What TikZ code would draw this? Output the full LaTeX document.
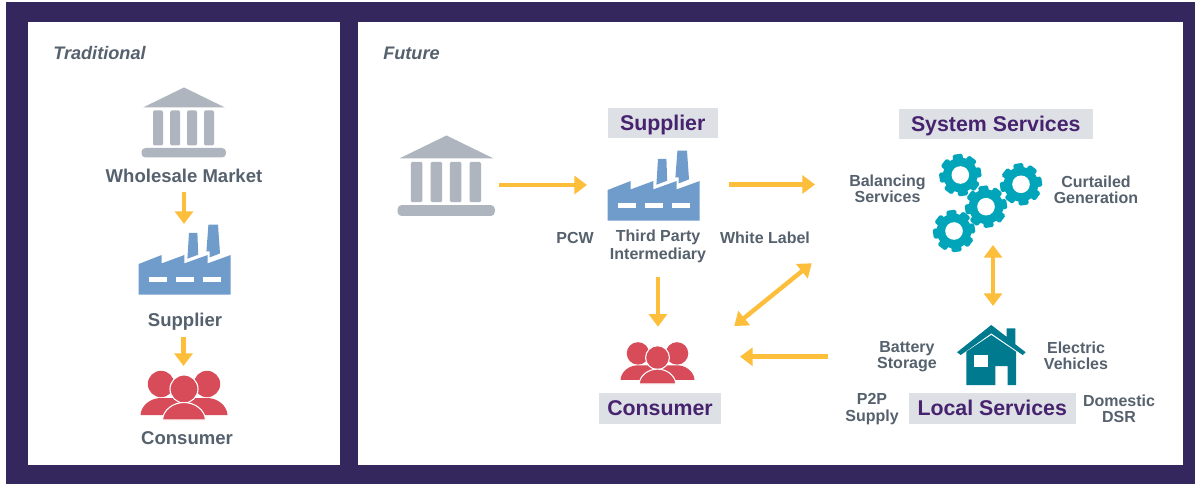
\documentclass[tikz,border=0pt]{standalone}
\usepackage{fontspec}
\setmainfont{Liberation Sans}
\usetikzlibrary{arrows.meta}
\definecolor{navy}{HTML}{33275D}
\definecolor{greytext}{HTML}{56616E}
\definecolor{purpletext}{HTML}{47236F}
\definecolor{boxgrey}{HTML}{DDE0E4}
\definecolor{bankgrey}{HTML}{AEB5BE}
\definecolor{factoryblue}{HTML}{6F9CCB}
\definecolor{peoplered}{HTML}{D84C5A}
\definecolor{gearteal}{HTML}{00A5BA}
\definecolor{houseteal}{HTML}{007A8E}
\definecolor{arrowgold}{HTML}{FDBE3C}
\tikzset{
  x=0.75pt,y=-0.75pt,
  lab/.style={inner sep=0pt,text=greytext,font=\fontsize{12}{12.2}\selectfont\bfseries,align=center},
  biglab/.style={inner sep=0pt,text=greytext,font=\fontsize{13.9}{15}\selectfont\bfseries,align=center},
  head/.style={inner sep=0pt,text=greytext,font=\fontsize{13.6}{15}\selectfont\bfseries\itshape,anchor=west},
  tag/.style={inner sep=0pt,fill=boxgrey,text=purpletext,font=\fontsize{16}{17}\selectfont\bfseries,anchor=center,text height=11pt,text depth=0pt},
  flow/.style={draw=arrowgold,line width=3.3pt,-{Triangle[width=13.5pt,length=9.5pt]}},
  flowboth/.style={draw=arrowgold,line width=3.3pt,{Triangle[width=13.5pt,length=9.5pt]}-{Triangle[width=13.5pt,length=9.5pt]}},
  bank/.pic={
    \fill[bankgrey] (0,-70) -- (41,-50) -- (-41,-50) -- cycle;
    \foreach \cx in {-26,-8.8,8,25}{
      \fill[bankgrey,rounded corners=1pt] (\cx-5,-47) rectangle (\cx+5,-12);
    }
    \fill[bankgrey,rounded corners=3pt] (-42.5,-9.5) rectangle (42,0);
  },
  factory/.pic={
    \fill[factoryblue] (0,0) -- (0,-30.7) -- (23,-39.7) -- (23,-31.3) -- (45.7,-39.7) -- (45.7,-31.3)
      -- (69,-39.7) -- (69,-31.3) -- (92,-39.7) -- (92,0) -- cycle;
    \fill[factoryblue] (50.3,-61.7) -- (58.7,-61.7) -- (59.5,-40) -- (48.7,-36) -- cycle;
    \fill[factoryblue] (69.7,-70) -- (79.3,-70) -- (81.3,-41.3) -- (71,-37.3) -- (71,-43.3) -- (67.7,-43.3) -- cycle;
    \foreach \wx in {10,37,64}{
      \fill[white] (\wx,-17.3) rectangle (\wx+18.3,-12.3);
    }
  },
  people/.pic={
    \fill[peoplered] (-23,-36) circle[radius=13.2];
    \fill[peoplered] (23,-36) circle[radius=13.2];
    \fill[peoplered] (-43.5,-5) .. controls (-43,-14) and (-34,-22) .. (-23,-22)
      -- (23,-22) .. controls (34,-22) and (43,-14) .. (43.5,-5) -- cycle;
    \fill[peoplered,draw=white,line width=0.8pt] (0,-31) circle[radius=14];
    \fill[peoplered,draw=white,line width=0.8pt] (-21.5,0) .. controls (-21,-10) and (-11,-17.5) .. (0,-17.5)
      .. controls (11,-17.5) and (21,-10) .. (21.5,0) -- cycle;
  },
  gear/.pic={
    \fill[gearteal] (0,0) circle[radius=17.3];
    \foreach \ga in {0,45,...,315}{
      \fill[gearteal,rotate=\ga+8,rounded corners=1.2pt] (-5,-21) rectangle (5,-14);
    }
    \fill[white] (0,0) circle[radius=8.8];
  }
}
\begin{document}
\begin{tikzpicture}
\useasboundingbox (0,0) rectangle (1195,484);
\fill[white] (0,0) rectangle (1195,484);
\fill[navy] (6,2) rectangle (1195,484);
\fill[white] (28.4,22.4) rectangle (339.6,465);
\fill[white] (357.8,22.4) rectangle (1182.6,465);

\node[head] (tradT) at (53,53) {Traditional};
\node[head] (futT) at (383,53) {Future};

% Traditional column
\pic at (184,157.5) {bank};
\node[biglab] (whole) at (184,175.5) {Wholesale Market};
\pic at (138.7,294.7) {factory};
\node[biglab] (supT) at (185,321.5) {Supplier};
\pic at (184,420) {people};
\node[biglab] (conT) at (187,438.5) {Consumer};

\coordinate (t1a) at (184,192);
\coordinate (t1b) at (184,224);
\coordinate (t2a) at (183.5,337);
\coordinate (t2b) at (183.5,366);
\draw[flow] (t1a) -- (t1b);
\draw[flow] (t2a) -- (t2b);

% Future: tags
\node[tag,minimum width=82.5pt,minimum height=22.7pt] (supF) at (662.7,122.8) {Supplier};
\node[tag,minimum width=145.3pt,minimum height=22.7pt] (sysF) at (995.8,123.8) {System Services};
\node[tag,minimum width=91.5pt,minimum height=22.7pt] (conF) at (660,408.5) {Consumer};
\node[tag,minimum width=125.3pt,minimum height=22.7pt] (locF) at (992.2,408.5) {Local Services};

% Future: icons
\begin{scope}[shift={(446.5,216)}]
  \pic[scale=1.15] {bank};
\end{scope}
\pic at (607.7,220.7) {factory};
\begin{scope}[shift={(657.5,384)}]
  \pic[scale=0.85] {people};
\end{scope}
\pic at (960.3,175) {gear};
\pic at (1021,184.3) {gear};
\pic at (986,206.7) {gear};
\pic at (954,231) {gear};

% House
\fill[houseteal] (966.3,385) -- (966.3,351.7) -- (991.3,335) -- (1016,351.7) -- (1016,385) -- (1007.7,385)
  -- (1007.7,366) -- (995.3,366) -- (995.3,385) -- cycle;
\fill[houseteal] (991.3,325) -- (1006.7,337) -- (1006.7,328.3) -- (1015.3,328.3) -- (1015.3,344.3)
  -- (1025.7,352.3) -- (1022.7,355) -- (991.3,333.3) -- (960.7,355) -- (957,352.3) -- cycle;
\fill[white] (974,354.7) rectangle (987.7,366.7);

% Future: labels
\node[lab] (pcw) at (575,237.5) {PCW};
\node[lab] (tpi) at (658,246.5) {Third Party\\[1.3pt]Intermediary};
\node[lab] (wl) at (765,237.5) {White Label};
\node[lab] (bal) at (887.5,188.5) {Balancing\\Services};
\node[lab] (cur) at (1096,189.5) {Curtailed\\Generation};
\node[lab] (bat) at (907,356.5) {Battery\\Storage};
\node[lab] (ev) at (1076,356) {Electric\\Vehicles};
\node[lab] (p2p) at (872,409) {P2P\\Supply};
\node[lab] (dsr) at (1119,409) {Domestic\\DSR};

% Future: connectors
\coordinate (f1a) at (499,185);
\coordinate (f1b) at (587,185);
\coordinate (f2a) at (729,184.5);
\coordinate (f2b) at (815,184.5);
\coordinate (f3a) at (658,276.7);
\coordinate (f3b) at (658,326.7);
\coordinate (f4a) at (811.7,263.3);
\coordinate (f4b) at (734.3,326);
\coordinate (f5a) at (828,356.7);
\coordinate (f5b) at (740,356.7);
\coordinate (f6a) at (993,245);
\coordinate (f6b) at (993,306);
\draw[flow] (f1a) -- (f1b);
\draw[flow] (f2a) -- (f2b);
\draw[flow] (f3a) -- (f3b);
\draw[flowboth] (f4a) -- (f4b);
\draw[flow] (f5a) -- (f5b);
\draw[flowboth] (f6a) -- (f6b);
\end{tikzpicture}
\end{document}
